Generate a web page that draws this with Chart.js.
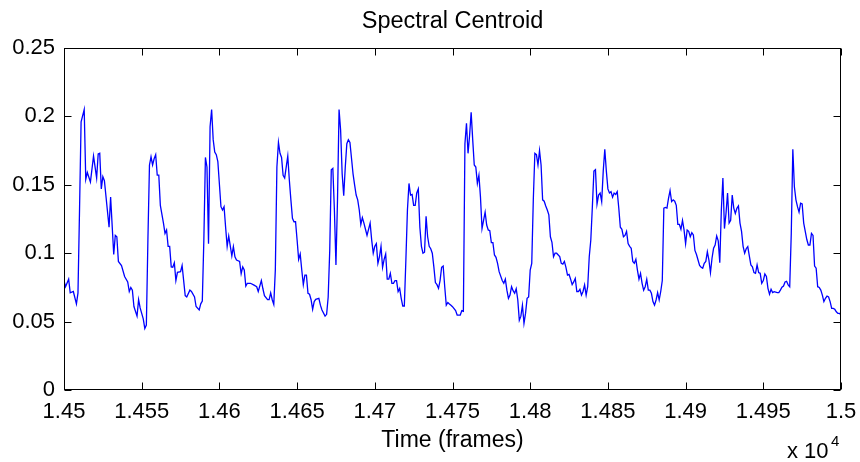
<!DOCTYPE html>
<html>
<head>
<meta charset="utf-8">
<title>Spectral Centroid</title>
<script src="https://cdn.jsdelivr.net/npm/chart.js@4.4.0/dist/chart.umd.min.js"></script>
<style>
  html, body { margin: 0; padding: 0; background: #fff; }
  #centroid-chart { display: block; }
</style>
</head>
<body>
<canvas id="centroid-chart" width="860" height="462"></canvas>
<script>
// time axis (frames)
const frames = [
  14500, 14501, 14503, 14504, 14506, 14508, 14509, 14510, 14511, 14513, 14514, 14515, 14517, 14519, 14521, 14522,
  14523, 14524, 14525, 14526, 14529, 14530, 14532, 14533, 14534, 14535, 14537, 14539, 14541, 14542, 14543, 14544,
  14545, 14547, 14548, 14549, 14551, 14552, 14553, 14554, 14555, 14556, 14557, 14558, 14559, 14560, 14561, 14562,
  14564, 14565, 14566, 14567, 14568, 14569, 14570, 14571, 14572, 14573, 14575, 14576, 14577, 14578, 14579, 14581,
  14582, 14584, 14585, 14587, 14588, 14589, 14590, 14591, 14592, 14593, 14594, 14595, 14596, 14597, 14598, 14599,
  14601, 14602, 14603, 14604, 14605, 14606, 14608, 14609, 14610, 14611, 14613, 14614, 14615, 14616, 14617, 14618,
  14620, 14622, 14624, 14625, 14627, 14628, 14629, 14631, 14632, 14633, 14634, 14635, 14636, 14637, 14638, 14639,
  14640, 14641, 14642, 14644, 14645, 14646, 14647, 14648, 14649, 14650, 14651, 14652, 14653, 14654, 14655, 14656,
  14657, 14658, 14659, 14660, 14661, 14662, 14664, 14665, 14666, 14668, 14669, 14670, 14671, 14672, 14673, 14674,
  14675, 14676, 14677, 14678, 14679, 14680, 14681, 14682, 14683, 14684, 14686, 14687, 14688, 14689, 14690, 14691,
  14692, 14693, 14694, 14695, 14697, 14698, 14699, 14700, 14701, 14702, 14703, 14704, 14705, 14706, 14707, 14708,
  14709, 14710, 14711, 14712, 14713, 14714, 14715, 14716, 14717, 14718, 14719, 14720, 14721, 14722, 14723, 14724,
  14725, 14726, 14727, 14728, 14729, 14730, 14731, 14732, 14733, 14734, 14735, 14736, 14737, 14738, 14739, 14740,
  14741, 14742, 14743, 14744, 14745, 14746, 14747, 14748, 14749, 14750, 14752, 14753, 14755, 14756, 14757, 14758,
  14759, 14760, 14761, 14762, 14763, 14764, 14765, 14766, 14767, 14768, 14769, 14770, 14771, 14772, 14773, 14774,
  14775, 14776, 14777, 14778, 14779, 14780, 14782, 14783, 14784, 14785, 14786, 14787, 14788, 14789, 14790, 14791,
  14792, 14793, 14794, 14795, 14796, 14797, 14798, 14799, 14800, 14801, 14802, 14803, 14804, 14805, 14806, 14807,
  14808, 14809, 14810, 14811, 14812, 14813, 14814, 14815, 14816, 14817, 14819, 14820, 14821, 14822, 14823, 14824,
  14825, 14826, 14827, 14828, 14829, 14830, 14831, 14832, 14833, 14834, 14835, 14836, 14837, 14838, 14839, 14840,
  14841, 14842, 14843, 14844, 14845, 14846, 14847, 14848, 14849, 14850, 14851, 14852, 14853, 14854, 14855, 14856,
  14857, 14858, 14859, 14860, 14861, 14862, 14863, 14864, 14865, 14866, 14867, 14868, 14869, 14870, 14871, 14872,
  14873, 14874, 14875, 14876, 14877, 14878, 14879, 14880, 14881, 14882, 14883, 14884, 14885, 14886, 14887, 14888,
  14889, 14890, 14891, 14892, 14893, 14894, 14895, 14896, 14897, 14898, 14899, 14900, 14901, 14902, 14903, 14904,
  14905, 14906, 14907, 14908, 14909, 14910, 14911, 14912, 14913, 14914, 14915, 14916, 14917, 14918, 14919, 14920,
  14921, 14922, 14923, 14924, 14925, 14926, 14927, 14928, 14929, 14930, 14931, 14932, 14933, 14934, 14935, 14936,
  14937, 14938, 14939, 14940, 14941, 14942, 14943, 14944, 14945, 14946, 14947, 14948, 14949, 14950, 14951, 14952,
  14953, 14954, 14955, 14956, 14957, 14959, 14960, 14961, 14962, 14963, 14964, 14965, 14966, 14967, 14968, 14969,
  14970, 14971, 14972, 14973, 14974, 14975, 14976, 14977, 14978, 14979, 14980, 14981, 14982, 14983, 14984, 14985,
  14986, 14987, 14988, 14989, 14990, 14991, 14992, 14993, 14994, 14995, 14996, 14997, 14998, 14999, 15000
];

// spectral centroid values
const centroid = [
  0.080, 0.0755, 0.081, 0.071, 0.072, 0.063, 0.071, 0.132, 0.196, 0.205, 0.154, 0.159, 0.152, 0.171, 0.155, 0.1725,
  0.173, 0.147, 0.156, 0.153, 0.119, 0.141, 0.099, 0.113, 0.112, 0.094, 0.091, 0.083, 0.079, 0.072, 0.075, 0.073,
  0.061, 0.054, 0.066, 0.060, 0.052, 0.045, 0.0475, 0.110, 0.1645, 0.1705, 0.1645, 0.169, 0.172, 0.157, 0.157, 0.135,
  0.122, 0.1145, 0.117, 0.105, 0.105, 0.090, 0.0897, 0.093, 0.080, 0.086, 0.0865, 0.091, 0.080, 0.069, 0.068, 0.073,
  0.072, 0.068, 0.061, 0.0585, 0.063, 0.065, 0.110, 0.170, 0.163, 0.107, 0.1925, 0.205, 0.183, 0.174, 0.172, 0.167,
  0.134, 0.1316, 0.134, 0.119, 0.105, 0.1126, 0.098, 0.1048, 0.0974, 0.095, 0.094, 0.085, 0.090, 0.0877, 0.076, 0.078,
  0.078, 0.0768, 0.0755, 0.072, 0.080, 0.074, 0.069, 0.066, 0.066, 0.071, 0.066, 0.0626, 0.088, 0.163, 0.181, 0.173,
  0.170, 0.157, 0.155, 0.171, 0.1535, 0.139, 0.1255, 0.123, 0.123, 0.1096, 0.0955, 0.0994, 0.0877, 0.077, 0.084, 0.084,
  0.0707, 0.070, 0.066, 0.059, 0.0646, 0.0663, 0.067, 0.062, 0.0585, 0.054, 0.0553, 0.068, 0.102, 0.161, 0.162, 0.1316,
  0.0914, 0.139, 0.205, 0.190, 0.158, 0.142, 0.163, 0.180, 0.183, 0.181, 0.158, 0.150, 0.1425, 0.139, 0.1316, 0.121,
  0.126, 0.122, 0.1175, 0.113, 0.122, 0.1096, 0.100, 0.105, 0.107, 0.0926, 0.0974, 0.105, 0.0897, 0.0955, 0.0994, 0.081,
  0.081, 0.0853, 0.078, 0.078, 0.080, 0.080, 0.072, 0.0743, 0.067, 0.0614, 0.0614, 0.095, 0.1316, 0.151, 0.1425, 0.143,
  0.135, 0.135, 0.144, 0.147, 0.119, 0.105, 0.100, 0.1007, 0.127, 0.112, 0.105, 0.1033, 0.100, 0.090, 0.0785, 0.077,
  0.0743, 0.080, 0.0897, 0.0906, 0.0755, 0.062, 0.064, 0.0629, 0.062, 0.0609, 0.058, 0.0548, 0.0548, 0.058, 0.0575, 0.180,
  0.195, 0.173, 0.186, 0.203, 0.183, 0.1645, 0.163, 0.151, 0.157, 0.141, 0.118, 0.124, 0.130, 0.1206, 0.117, 0.1165,
  0.1077, 0.1077, 0.0987, 0.097, 0.0926, 0.0865, 0.080, 0.078, 0.081, 0.073, 0.067, 0.0694, 0.0755, 0.0726, 0.0707, 0.074,
  0.066, 0.051, 0.054, 0.062, 0.0487, 0.056, 0.067, 0.068, 0.0877, 0.0926, 0.139, 0.173, 0.172, 0.1645, 0.175, 0.1645,
  0.139, 0.138, 0.1345, 0.1316, 0.128, 0.112, 0.108, 0.0974, 0.100, 0.100, 0.0975, 0.0926, 0.092, 0.094, 0.0897, 0.084,
  0.0845, 0.081, 0.077, 0.079, 0.0816, 0.072, 0.072, 0.0736, 0.0694, 0.072, 0.0768, 0.0694, 0.0755, 0.0974, 0.1096, 0.134,
  0.160, 0.161, 0.136, 0.1425, 0.144, 0.1377, 0.160, 0.176, 0.160, 0.147, 0.144, 0.145, 0.141, 0.144, 0.143, 0.145,
  0.133, 0.119, 0.1175, 0.112, 0.113, 0.116, 0.107, 0.105, 0.1036, 0.094, 0.0926, 0.0955, 0.0877, 0.081, 0.0853, 0.078,
  0.073, 0.0755, 0.081, 0.073, 0.073, 0.0707, 0.0646, 0.062, 0.0658, 0.0712, 0.0658, 0.072, 0.080, 0.133, 0.1335, 0.133,
  0.140, 0.1457, 0.1377, 0.139, 0.138, 0.135, 0.121, 0.121, 0.1175, 0.124, 0.117, 0.107, 0.117, 0.116, 0.112, 0.115,
  0.1133, 0.102, 0.099, 0.095, 0.091, 0.0897, 0.089, 0.0926, 0.094, 0.101, 0.095, 0.0858, 0.0963, 0.1036, 0.106, 0.1126,
  0.109, 0.093, 0.1316, 0.155, 0.118, 0.129, 0.144, 0.122, 0.124, 0.1425, 0.133, 0.129, 0.1328, 0.1345, 0.122, 0.116,
  0.105, 0.100, 0.1033, 0.1048, 0.098, 0.0914, 0.0901, 0.0858, 0.0853, 0.0914, 0.0858, 0.0853, 0.078, 0.080, 0.0848, 0.083,
  0.0743, 0.070, 0.0736, 0.0712, 0.0719, 0.0712, 0.0712, 0.073, 0.0751, 0.076, 0.079, 0.0795, 0.0768, 0.0755, 0.1145, 0.176,
  0.1486, 0.139, 0.134, 0.130, 0.1365, 0.136, 0.122, 0.116, 0.110, 0.106, 0.106, 0.1145, 0.113, 0.0906, 0.089, 0.0755,
  0.075, 0.073, 0.0694, 0.0646, 0.067, 0.0687, 0.068, 0.0646, 0.0597, 0.0597, 0.059, 0.0572, 0.056, 0.056, 0.055
];

// tick positions
const xTickValues = [14500, 14550, 14600, 14650, 14700, 14750, 14800, 14850, 14900, 14950, 15000];
const yTickValues = [0, 0.05, 0.1, 0.15, 0.2, 0.25];

const FONT = "'Liberation Sans', Arial, Helvetica, sans-serif";

// matlab-style box, inward ticks, title and exponent label
const matlabFrame = {
  id: 'matlabFrame',
  afterDraw(chart) {
    const { ctx, chartArea: a, scales } = chart;
    const left = Math.round(a.left) + 0.5;
    const right = Math.round(a.right) - 0.5;
    const top = Math.round(a.top) + 0.5;
    const bottom = Math.round(a.bottom) - 0.5;
    const tick = 7;

    ctx.save();
    ctx.strokeStyle = '#000';
    ctx.lineWidth = 1;
    ctx.strokeRect(left, top, right - left, bottom - top);

    ctx.beginPath();
    xTickValues.forEach(v => {
      const x = Math.round(scales.x.getPixelForValue(v)) + 0.5;
      ctx.moveTo(x, bottom); ctx.lineTo(x, bottom - tick);
      ctx.moveTo(x, top); ctx.lineTo(x, top + tick);
    });
    yTickValues.forEach(v => {
      const y = Math.round(scales.y.getPixelForValue(v)) + 0.5;
      ctx.moveTo(left, y); ctx.lineTo(left + tick, y);
      ctx.moveTo(right, y); ctx.lineTo(right - tick, y);
    });
    ctx.stroke();

    ctx.fillStyle = '#000';
    ctx.textBaseline = 'alphabetic';

    // title
    ctx.font = '23.5px ' + FONT;
    ctx.textAlign = 'center';
    ctx.fillText('Spectral Centroid', (a.left + a.right) / 2, 28);

    // x label
    ctx.font = '23px ' + FONT;
    ctx.fillText('Time (frames)', (a.left + a.right) / 2, 447);

    // x 10^4
    ctx.font = '22px ' + FONT;
    ctx.textAlign = 'left';
    ctx.fillText('x 10', 787, 458);
    ctx.font = '15px ' + FONT;
    ctx.fillText('4', 831, 446);
    ctx.restore();
  }
};

const centroidCtx = document.getElementById('centroid-chart');
new Chart(centroidCtx, {
  type: 'line',
  data: {
    datasets: [{
      label: 'Spectral Centroid',
      data: frames.map((f, i) => ({ x: f, y: centroid[i] })),
      borderColor: '#0000ff',
      borderWidth: 1.3,
      pointRadius: 0,
      tension: 0,
      fill: false
    }]
  },
  options: {
    responsive: false,
    animation: false,
    devicePixelRatio: 1,
    layout: { padding: { top: 48, right: 19, bottom: 0, left: 0 } },
    plugins: {
      legend: { display: false },
      title: { display: false },
      tooltip: { enabled: false }
    },
    scales: {
      x: {
        type: 'linear',
        min: 14500,
        max: 15000,
        afterBuildTicks: scale => { scale.ticks = xTickValues.map(v => ({ value: v })); },
        afterFit: scale => {
          scale.height = 72;
          scale.paddingLeft = 0;
          scale.paddingRight = 0;
        },
        grid: { display: false, drawTicks: false },
        border: { display: false },
        ticks: {
          color: '#000',
          padding: 9,
          maxRotation: 0,
          autoSkip: false,
          font: { family: FONT, size: 22 },
          callback: v => String(v / 10000)
        }
      },
      y: {
        min: 0,
        max: 0.25,
        afterBuildTicks: scale => { scale.ticks = yTickValues.map(v => ({ value: v })); },
        afterFit: scale => {
          scale.width = 64;
          scale.paddingTop = 0;
          scale.paddingBottom = 0;
        },
        grid: { display: false, drawTicks: false },
        border: { display: false },
        ticks: {
          color: '#000',
          padding: 9,
          autoSkip: false,
          font: { family: FONT, size: 22 },
          callback: v => String(v)
        }
      }
    }
  },
  plugins: [matlabFrame]
});
</script>
</body>
</html>
